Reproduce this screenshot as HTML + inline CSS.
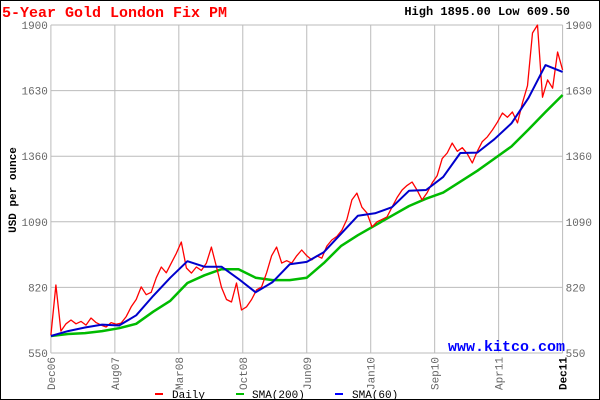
<!DOCTYPE html>
<html><head><meta charset="utf-8"><style>
html,body{margin:0;padding:0;background:#fff}
svg{display:block;font-family:"Liberation Mono",monospace}
</style></head><body>
<svg id="chart" width="600" height="400" viewBox="0 0 600 400">
<rect x="0.5" y="0.5" width="599" height="399" fill="#fff" stroke="#000"/>
<text x="2" y="17" font-size="15" font-weight="bold" fill="#f00">5-Year Gold London Fix PM</text>
<text x="570" y="15" font-size="12" font-weight="bold" fill="#000" text-anchor="end">High 1895.00 Low 609.50</text>
<text transform="translate(16,190) rotate(-90)" font-size="11" font-weight="bold" text-anchor="middle" fill="#000">USD per ounce</text>
<g id="grid"></g>
<g id="series"></g>
<text x="565" y="351" font-size="15" font-weight="bold" fill="#00f" text-anchor="end">www.kitco.com</text>
<g>
<line x1="155" y1="394" x2="163" y2="394" stroke="#f00" stroke-width="2"/>
<text x="172" y="398" font-size="11">Daily</text>
<line x1="236" y1="394" x2="244" y2="394" stroke="#0b0" stroke-width="2"/>
<text x="252" y="398" font-size="11">SMA(200)</text>
<line x1="335" y1="394" x2="343" y2="394" stroke="#00f" stroke-width="2"/>
<text x="352" y="398" font-size="11">SMA(60)</text>
</g>
</svg>
<script>
const yTicks=[550,820,1090,1360,1630,1900];
const xTickLabels=["Dec06","Aug07","Mar08","Oct08","Jun09","Jan10","Sep10","Apr11","Dec11"];
const dailyValues=[624,830,640,670,686,670,680,665,694,675,665,657,675,668,673,700,740,770,822,790,800,860,904,880,920,960,1007,900,879,904,890,920,986,904,820,770,760,838,727,740,770,810,822,880,950,986,920,930,920,950,974,950,933,950,940,990,1015,1030,1056,1100,1180,1208,1150,1126,1069,1090,1100,1110,1150,1190,1221,1240,1254,1220,1180,1210,1250,1280,1350,1373,1414,1380,1395,1370,1332,1380,1420,1440,1468,1500,1538,1520,1542,1497,1580,1650,1867,1900,1603,1674,1640,1789,1715];
const sma60Values=[620,640,655,667,663,705,785,860,928,905,905,855,800,842,915,925,965,1040,1115,1125,1150,1218,1221,1275,1373,1375,1430,1495,1600,1735,1707];
const sma200Values=[620,628,632,640,652,670,720,765,838,870,895,895,860,850,850,860,920,990,1035,1075,1115,1155,1185,1210,1255,1300,1350,1400,1470,1542,1612];

const X0=50.9,X1=562.6,Y0=353,Y1=25,VMIN=550,VMAX=1900;
function yScale(v){return Y0-(v-VMIN)/(VMAX-VMIN)*(Y0-Y1);}
function xFrac(f){return X0+f*(X1-X0);}
const NS='http://www.w3.org/2000/svg';
const grid=document.getElementById('grid'),ser=document.getElementById('series');
function mk(tag,attrs,parent){const e=document.createElementNS(NS,tag);for(const k in attrs)e.setAttribute(k,attrs[k]);parent.appendChild(e);return e;}

yTicks.forEach((v,i)=>{
  const y=yScale(v);
  const l=mk('line',{x1:X0,x2:X1,y1:y,y2:y,stroke:'#bbb','stroke-width':1},grid);
  
  
  const t1=mk('text',{x:X0-3,y:y+4,'font-size':11,fill:'#666','text-anchor':'end'},grid);
  t1.textContent=v;
  
  
  const t2=mk('text',{x:X1+3,y:y+4,'font-size':11,fill:'#666'},grid);
  t2.textContent=v;
  
  
});
xTickLabels.forEach((lab,i)=>{
  const x=xFrac(i/(xTickLabels.length-1));
  const l=mk('line',{x1:x,x2:x,y1:Y1,y2:Y0,stroke:'#bbb','stroke-width':1},grid);
  
  
  const last=i===xTickLabels.length-1;
  const t=mk('text',{transform:`translate(${x+4},${Y0+4}) rotate(-90)`,'font-size':11,fill:last?'#000':'#666','font-weight':last?'bold':'normal','text-anchor':'end'},grid);
  t.textContent=lab;
  
  
});
function line(vals,color,w,name){
  const pts=vals.map((v,i)=>xFrac(i/(vals.length-1)).toFixed(1)+','+yScale(v).toFixed(1)).join(' ');
  const p=mk('polyline',{points:pts,fill:'none',stroke:color,'stroke-width':w,'stroke-linejoin':'round'},ser);
  
  
}
line(sma200Values,'#0b0',2.5,'sma200-line');
line(dailyValues,'#f00',1.3,'daily-line');
line(sma60Values,'#00c',2,'sma60-line');
</script>
</body></html>
